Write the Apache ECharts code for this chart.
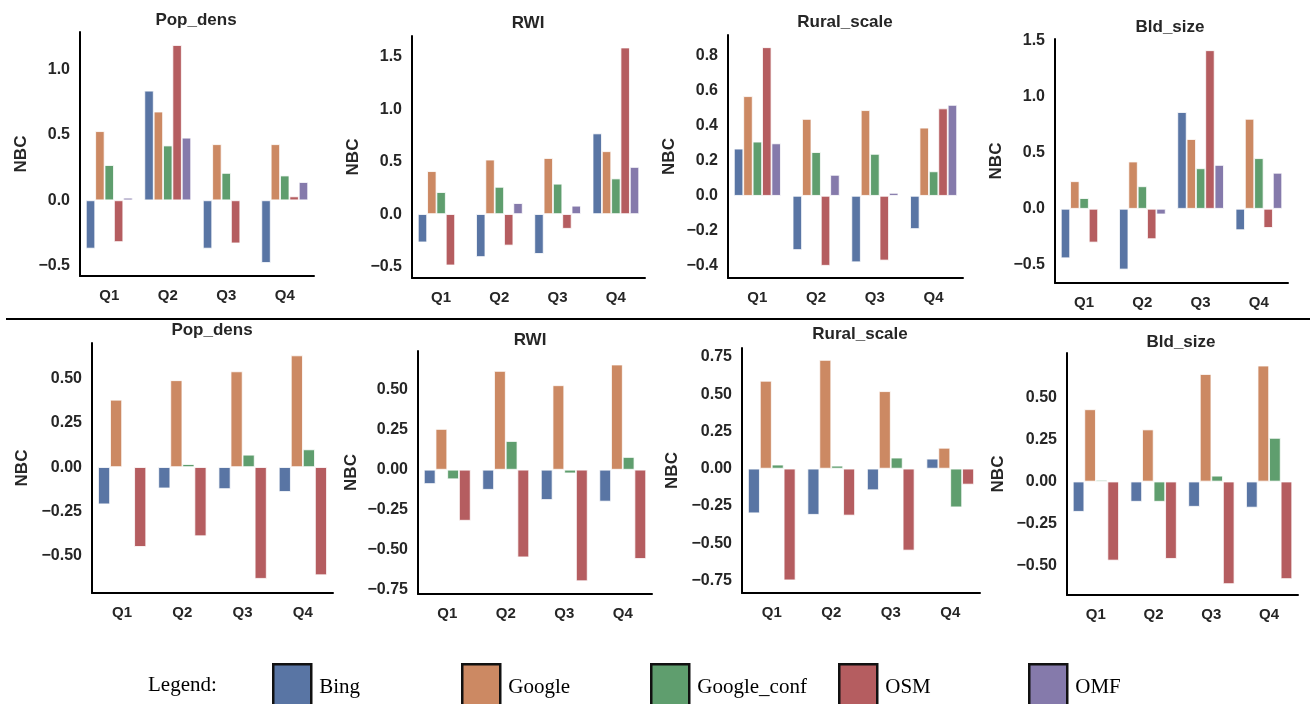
<!DOCTYPE html>
<html>
<head>
<meta charset="utf-8">
<script src="https://cdn.jsdelivr.net/npm/echarts@6/dist/echarts.min.js"></script>
<style>
  html, body { margin: 0; padding: 0; background: #fff; }
  #chart { width: 1310px; height: 704px; }
</style>
</head>
<body>
<div id="chart"></div>
<script>
// ---------- DATA ----------
const categories = ['Q1', 'Q2', 'Q3', 'Q4'];
const seriesNames = ['Bing', 'Google', 'Google_conf', 'OSM', 'OMF'];
const panelTitles = ['Pop_dens', 'RWI', 'Rural_scale', 'Bld_size'];

// Top row (rows: Bing, Google, Google_conf, OSM, OMF)
const topPopDens = [
  [-0.37, 0.84, -0.37, -0.48],
  [0.53, 0.68, 0.43, 0.43],
  [0.27, 0.42, 0.21, 0.19],
  [-0.32, 1.19, -0.33, 0.03],
  [0.02, 0.48, 0.005, 0.14]
];
const topRWI = [
  [-0.27, -0.41, -0.38, 0.77],
  [0.41, 0.52, 0.535, 0.60],
  [0.21, 0.26, 0.29, 0.34],
  [-0.49, -0.30, -0.14, 1.59],
  [0, 0.105, 0.08, 0.45]
];
const topRural = [
  [0.27, -0.31, -0.38, -0.19],
  [0.57, 0.44, 0.49, 0.39],
  [0.31, 0.25, 0.24, 0.14],
  [0.85, -0.40, -0.37, 0.50],
  [0.30, 0.12, 0.017, 0.52]
];
const topBld = [
  [-0.44, -0.54, 0.86, -0.19],
  [0.245, 0.42, 0.62, 0.80],
  [0.095, 0.20, 0.36, 0.45],
  [-0.30, -0.27, 1.41, -0.17],
  [0, -0.05, 0.39, 0.32]
];

// Bottom row (rows: Bing, Google, Google_conf, OSM)
const botPopDens = [
  [-0.21, -0.12, -0.124, -0.14],
  [0.38, 0.49, 0.54, 0.63],
  [0.0, 0.017, 0.07, 0.10],
  [-0.45, -0.39, -0.63, -0.61]
];
const botRWI = [
  [-0.09, -0.126, -0.19, -0.20],
  [0.256, 0.62, 0.53, 0.66],
  [-0.06, 0.18, -0.023, 0.08],
  [-0.32, -0.55, -0.70, -0.56]
];
const botRural = [
  [-0.30, -0.31, -0.145, 0.067],
  [0.59, 0.73, 0.52, 0.14],
  [0.027, 0.02, 0.074, -0.26],
  [-0.75, -0.315, -0.55, -0.107]
];
const botBld = [
  [-0.18, -0.12, -0.15, -0.155],
  [0.43, 0.31, 0.64, 0.69],
  [0.01, -0.12, 0.035, 0.26],
  [-0.47, -0.46, -0.61, -0.58]
];

// Tick labels
const ticksTopPop = [-0.5, 0, 0.5, 1.0];
const ticksTopRWI = [-0.5, 0, 0.5, 1.0, 1.5];
const ticksTopRural = [-0.4, -0.2, 0, 0.2, 0.4, 0.6, 0.8];
const ticksTopBld = [-0.5, 0, 0.5, 1.0, 1.5];
const ticksBotPop = [-0.5, -0.25, 0, 0.25, 0.5];
const ticksBotRWI = [-0.75, -0.5, -0.25, 0, 0.25, 0.5];
const ticksBotRural = [-0.75, -0.5, -0.25, 0, 0.25, 0.5, 0.75];
const ticksBotBld = [-0.5, -0.25, 0, 0.25, 0.5];

// ---------- STYLE / LAYOUT ----------
const colors = ['#5975A4', '#CC8963', '#5F9E6E', '#B55D60', '#857AAB'];
const textColor = '#262626';
const font = 'Liberation Sans, Arial, sans-serif';

const panels = [
  { data: topPopDens, ticks: ticksTopPop, dec: 1, title: 0, grid: [80, 32, 234, 244], range: [-0.58, 1.29], tx: 196, ty: 12, gap: 50 },
  { data: topRWI, ticks: ticksTopRWI, dec: 1, title: 1, grid: [412, 36, 233, 242], range: [-0.61, 1.70], tx: 528, ty: 15, gap: 50 },
  { data: topRural, ticks: ticksTopRural, dec: 1, title: 2, grid: [728, 35, 235, 243], range: [-0.47, 0.92], tx: 845, ty: 14, gap: 50 },
  { data: topBld, ticks: ticksTopBld, dec: 1, title: 3, grid: [1055, 39, 233, 244], range: [-0.66, 1.51], tx: 1170, ty: 19, gap: 50 },
  { data: botPopDens, ticks: ticksBotPop, dec: 2, title: 0, grid: [92, 343, 241, 250], range: [-0.71, 0.70], tx: 212, ty: 322, gap: 61 },
  { data: botRWI, ticks: ticksBotRWI, dec: 2, title: 1, grid: [418, 351, 234, 243], range: [-0.78, 0.745], tx: 530, ty: 332, gap: 58 },
  { data: botRural, ticks: ticksBotRural, dec: 2, title: 2, grid: [742, 348, 238, 245], range: [-0.835, 0.81], tx: 860, ty: 326, gap: 61 },
  { data: botBld, ticks: ticksBotBld, dec: 2, title: 3, grid: [1067, 353, 231, 242], range: [-0.675, 0.765], tx: 1181, ty: 334, gap: 60 }
];

function fmt(v, dec) {
  const s = Number(v).toFixed(dec);
  return s.replace('-', '\u2212');
}

const grids = [], xAxes = [], yAxes = [], series = [], titles = [];

panels.forEach((p, gi) => {
  grids.push({ left: p.grid[0], top: p.grid[1], width: p.grid[2], height: p.grid[3], containLabel: false, outerBoundsMode: 'none' });
  xAxes.push({
    type: 'category', gridIndex: gi, data: categories, boundaryGap: true,
    axisLine: { show: true, onZero: false, lineStyle: { color: '#000', width: 2 } },
    axisTick: { show: false },
    axisLabel: { fontSize: 15, fontWeight: 'bold', color: textColor, fontFamily: font, margin: 12 },
    splitLine: { show: false }
  });
  yAxes.push({
    type: 'value', gridIndex: gi, min: p.range[0], max: p.range[1],
    axisLine: { show: true, onZero: false, lineStyle: { color: '#000', width: 2 } },
    axisTick: { show: false },
    splitLine: { show: false },
    axisLabel: {
      customValues: p.ticks,
      formatter: (v) => fmt(v, p.dec),
      fontSize: 16, fontWeight: 'bold', color: textColor, fontFamily: font, margin: 10
    },
    name: 'NBC', nameLocation: 'middle', nameGap: p.gap, nameRotate: 90,
    nameTextStyle: { fontSize: 17, fontWeight: 'bold', color: textColor, fontFamily: font }
  });
  titles.push({
    text: panelTitles[p.title], left: p.tx, top: p.ty, textAlign: 'center', padding: 0,
    textStyle: { fontSize: 17, fontWeight: 'bold', color: textColor, fontFamily: font }
  });
  p.data.forEach((vals, si) => {
    series.push({
      type: 'bar', name: seriesNames[si], xAxisIndex: gi, yAxisIndex: gi,
      data: vals,
      barGap: '0%', barCategoryGap: '20%',
      itemStyle: { color: colors[si], borderColor: '#ffffff', borderWidth: 0.8 },
      emphasis: { disabled: true },
      animation: false
    });
  });
});

titles.push({
  text: 'Legend:', left: 148, top: 675, padding: 0,
  textStyle: { fontSize: 21, fontWeight: 'normal', color: '#000', fontFamily: 'Liberation Serif, Times New Roman, serif' }
});

const legendLeft = [272, 461, 650, 838, 1028];
const legends = seriesNames.map((n, i) => ({
  data: [n], left: legendLeft[i], top: 663, padding: 0,
  icon: 'rect', itemWidth: 38, itemHeight: 46,
  itemStyle: { borderColor: '#111', borderWidth: 2.5 },
  selectedMode: false,
  textStyle: { fontSize: 21, color: '#000', fontFamily: 'Liberation Serif, Times New Roman, serif', padding: [0, 0, 0, 3] }
}));

const chart = echarts.init(document.getElementById('chart'), null, { renderer: 'canvas' });
chart.setOption({
  backgroundColor: '#ffffff',
  animation: false,
  color: colors,
  title: titles,
  legend: legends,
  grid: grids,
  xAxis: xAxes,
  yAxis: yAxes,
  series: series,
  graphic: [{
    type: 'line', shape: { x1: 6, y1: 319, x2: 1310, y2: 319 },
    style: { stroke: '#000', lineWidth: 2 }, silent: true
  }]
});
</script>
</body>
</html>
